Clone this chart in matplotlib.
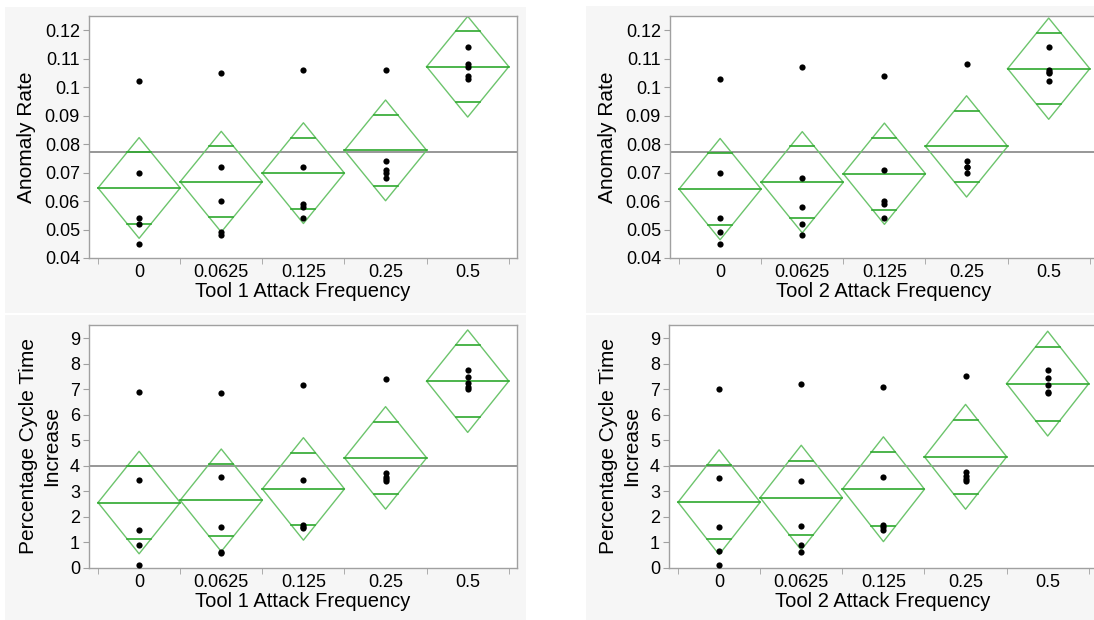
import matplotlib
matplotlib.use('Agg')
import matplotlib.pyplot as plt
from matplotlib.patches import Rectangle
import numpy as np

plt.rcParams['font.family'] = ['Liberation Sans', 'DejaVu Sans']

freq_labels = ['0', '0.0625', '0.125', '0.25', '0.5']

tool1_anomaly = [
    [0.102, 0.070, 0.054, 0.052, 0.045],
    [0.105, 0.072, 0.060, 0.049, 0.048],
    [0.106, 0.072, 0.059, 0.058, 0.054],
    [0.106, 0.074, 0.071, 0.070, 0.068],
    [0.114, 0.108, 0.107, 0.104, 0.103],
]
tool2_anomaly = [
    [0.103, 0.070, 0.054, 0.049, 0.045],
    [0.107, 0.068, 0.058, 0.052, 0.048],
    [0.104, 0.071, 0.060, 0.059, 0.054],
    [0.108, 0.074, 0.072, 0.072, 0.070],
    [0.114, 0.106, 0.1055, 0.105, 0.102],
]
tool1_cycle = [
    [6.88, 3.43, 1.49, 0.92, 0.10],
    [6.85, 3.56, 1.62, 0.64, 0.60],
    [7.15, 3.46, 1.68, 1.62, 1.58],
    [7.42, 3.72, 3.57, 3.47, 3.39],
    [7.75, 7.50, 7.25, 7.10, 7.00],
]
tool2_cycle = [
    [7.01, 3.53, 1.60, 0.65, 0.10],
    [7.20, 3.40, 1.65, 0.92, 0.61],
    [7.10, 3.55, 1.70, 1.60, 1.48],
    [7.51, 3.75, 3.62, 3.50, 3.40],
    [7.77, 7.43, 7.17, 6.91, 6.84],
]

anomaly_ticks = [0.04, 0.05, 0.06, 0.07, 0.08, 0.09, 0.1, 0.11, 0.12]
cycle_ticks = [0, 1, 2, 3, 4, 5, 6, 7, 8, 9]

T_CRIT = 2.086  # t(0.975, df=20)

DIAMOND = '#6cc46c'
MEANLINE = '#2ea82e'
FRAME = '#a0a0a0'
PANEL_BG = '#f6f6f6'

W, H = 1094, 620
fig = plt.figure(figsize=(W / 100, H / 100), dpi=100)


def px_rect(x0, y0, x1, y1):
    return [x0 / W, 1 - y1 / H, (x1 - x0) / W, (y1 - y0) / H]


# grey panel backgrounds
for r in [px_rect(5, 7, 526, 313), px_rect(5, 315, 526, 620),
          px_rect(586, 6, 1094, 313), px_rect(586, 315, 1094, 620)]:
    fig.add_artist(Rectangle((r[0], r[1]), r[2], r[3], transform=fig.transFigure,
                             facecolor=PANEL_BG, edgecolor='none', zorder=0))


def draw_panel(ax, groups, ylim, yticks, ylabel, xlabel):
    groups = [np.asarray(g, dtype=float) for g in groups]
    means = np.array([g.mean() for g in groups])
    ss = sum(((g - g.mean()) ** 2).sum() for g in groups)
    dof = sum(len(g) for g in groups) - len(groups)
    ci = T_CRIT * np.sqrt(ss / dof) / np.sqrt([len(g) for g in groups])
    grand = np.concatenate(groups).mean()

    ax.axhline(grand, color='#7a7a7a', lw=1.1, zorder=1)
    w = 0.5 * (1 - 1 / np.sqrt(2))
    for i, (m, c) in enumerate(zip(means, ci)):
        ax.plot([i - 0.5, i, i + 0.5, i, i - 0.5], [m, m + c, m, m - c, m],
                color=DIAMOND, lw=1.0, zorder=2)
        ax.plot([i - 0.5, i + 0.5], [m, m], color=MEANLINE, lw=1.2, zorder=3)
        d = c / np.sqrt(2)
        ax.plot([i - w, i + w], [m + d, m + d], color=MEANLINE, lw=1.2, zorder=3)
        ax.plot([i - w, i + w], [m - d, m - d], color=MEANLINE, lw=1.2, zorder=3)
        ax.scatter(np.full(len(groups[i]), i), groups[i], s=20, color='black',
                   zorder=4, linewidths=0)

    ax.set_xlim(-0.61, 4.6)
    ax.set_ylim(*ylim)
    ax.set_xticks(range(len(freq_labels)))
    ax.set_xticklabels(freq_labels)
    ax.set_xticks(np.arange(-0.5, len(freq_labels)), minor=True)
    ax.tick_params(axis='x', which='major', length=0, pad=4, labelsize=13)
    ax.tick_params(axis='x', which='minor', length=4, color=FRAME, direction='out')
    ax.set_yticks(yticks)
    ax.set_yticklabels([f'{v:g}' for v in yticks])
    ax.tick_params(axis='y', length=4.5, color=FRAME, pad=2, labelsize=13)
    for s in ax.spines.values():
        s.set_color(FRAME)
        s.set_linewidth(1.0)
    ax.set_xlabel(xlabel, fontsize=14.5, labelpad=1)
    ax.set_ylabel(ylabel, fontsize=15, labelpad=6, linespacing=1.3)
    ax.set_facecolor('white')


ax1 = fig.add_axes(px_rect(89, 16, 517, 258))
ax2 = fig.add_axes(px_rect(670, 16, 1098, 258))
ax3 = fig.add_axes(px_rect(89, 325, 517, 568))
ax4 = fig.add_axes(px_rect(669, 325, 1097, 568))

draw_panel(ax1, tool1_anomaly, (0.04, 0.125), anomaly_ticks,
           'Anomaly Rate', 'Tool 1 Attack Frequency')
draw_panel(ax2, tool2_anomaly, (0.04, 0.125), anomaly_ticks,
           'Anomaly Rate', 'Tool 2 Attack Frequency')
draw_panel(ax3, tool1_cycle, (0, 9.52), cycle_ticks,
           'Percentage Cycle Time\nIncrease', 'Tool 1 Attack Frequency')
draw_panel(ax4, tool2_cycle, (0, 9.52), cycle_ticks,
           'Percentage Cycle Time\nIncrease', 'Tool 2 Attack Frequency')

fig.savefig('out.png', dpi=100, facecolor='white')
plt.close(fig)
